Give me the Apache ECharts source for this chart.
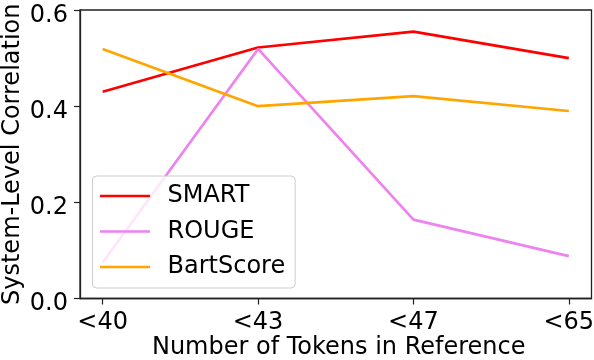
<!DOCTYPE html>
<html>
<head>
<meta charset="utf-8">
<script src="https://cdn.jsdelivr.net/npm/echarts@6/dist/echarts.min.js"></script>
<style>html,body{margin:0;padding:0;background:#fff}#c{width:594px;height:360px}</style>
</head>
<body>
<div id="c"></div>
<script>
var categories = ['<40', '<43', '<47', '<65'];
var smart = [0.430, 0.522, 0.555, 0.500];
var rouge = [0.075, 0.519, 0.164, 0.088];
var bartScore = [0.519, 0.400, 0.421, 0.390];
var yTicks = [0, 0.2, 0.4, 0.6];

function pts(arr) { return arr.map(function (v, i) { return [i, v]; }); }
var F = 'DejaVu Sans';
var FS = 24;
var chart = echarts.init(document.getElementById('c'), null, {renderer: 'canvas'});
chart.setOption({
  animation: false,
  backgroundColor: '#fff',
  grid: {left: 80, top: 10, right: 2.5, bottom: 61.5, containLabel: false, outerBoundsMode: 'none', show: true, borderColor: '#222', borderWidth: 1.3, backgroundColor: 'transparent'},
  xAxis: {
    type: 'value', min: -0.146, max: 3.146,
    name: 'Number of Tokens in Reference', nameLocation: 'middle', nameGap: 37.5, nameMoveOverlap: false,
    nameTextStyle: {fontFamily: F, fontSize: FS, color: '#000', padding: [0, 0, 0, 6]},
    axisLine: {show: true, onZero: false, lineStyle: {color: '#222', width: 1.3}},
    axisTick: {show: true, length: 6, customValues: [0, 1, 2, 3], lineStyle: {color: '#222', width: 1.2}},
    axisLabel: {customValues: [0, 1, 2, 3], margin: 12, fontFamily: F, fontSize: FS, color: '#000',
      formatter: function (v) { return categories[Math.round(v)]; }},
    splitLine: {show: false}
  },
  yAxis: {
    type: 'value', min: 0, max: 0.6, interval: 0.2,
    name: 'System-Level Correlation', nameLocation: 'middle', nameGap: 55, nameRotate: 90, nameMoveOverlap: false,
    nameTextStyle: {fontFamily: F, fontSize: FS, color: '#000'},
    axisLine: {show: true, onZero: false, lineStyle: {color: '#222', width: 1.3}},
    axisTick: {show: true, length: 6, lineStyle: {color: '#222', width: 1.2}},
    axisLabel: {margin: 12, color: '#000',
      customValues: yTicks,
      formatter: function (v) { return '{a|' + v.toFixed(1) + '}'; },
      rich: {a: {fontFamily: F, fontSize: FS, color: '#000', padding: [11, 0, 0, 0]}}},
    splitLine: {show: false}
  },
  legend: {
    left: 92.5, top: 176, orient: 'vertical', z: 10,
    icon: 'rect', itemWidth: 50, itemHeight: 2.5, itemGap: 9.5,
    padding: [7, 10, 8, 7.5],
    backgroundColor: 'rgba(255,255,255,0.8)', borderColor: '#cccccc', borderWidth: 1, borderRadius: 4,
    textStyle: {fontFamily: F, fontSize: FS, color: '#000', lineHeight: 26, padding: [0, 0, 0, 12.5]},
    data: ['SMART', 'ROUGE', 'BartScore']
  },
  series: [
    {name: 'SMART', type: 'line', data: pts(smart), symbol: 'none', lineStyle: {color: '#ff0000', width: 2.7}, itemStyle: {color: '#ff0000'}},
    {name: 'ROUGE', type: 'line', data: pts(rouge), symbol: 'none', lineStyle: {color: '#ee82ee', width: 2.7}, itemStyle: {color: '#ee82ee'}},
    {name: 'BartScore', type: 'line', data: pts(bartScore), symbol: 'none', lineStyle: {color: '#ffa500', width: 2.7}, itemStyle: {color: '#ffa500'}}
  ]
});
</script>
</body>
</html>
